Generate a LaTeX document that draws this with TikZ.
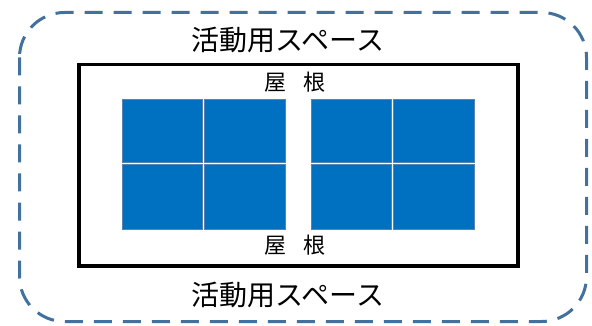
\documentclass[tikz,border=0pt]{standalone}
\usepackage{fontspec}
\setmainfont{Noto Sans CJK JP}
\definecolor{dashblue}{HTML}{41719C}
\definecolor{panelblue}{HTML}{0070C0}
\definecolor{celledge}{HTML}{5A82B0}
\begin{document}
\begin{tikzpicture}[x=1pt,y=-1pt,
  area/.style={draw=dashblue,line width=3pt,dash pattern=on 18pt off 11pt,rounded corners=45pt},
  roofbox/.style={draw=black,line width=3.5pt},
  cell/.style={fill=panelblue,draw=celledge,line width=0.7pt},
  bigtext/.style={font=\fontsize{28}{30}\selectfont,inner sep=0pt},
  rooftext/.style={font=\fontsize{22}{24}\selectfont,inner sep=0pt}]
\useasboundingbox (0,0) rectangle (592,326);
\draw[area] (19.5,12.5) rectangle (586.5,321.5);
\draw[roofbox] (79,64.5) rectangle (518,266);
% left panel
\draw[cell] (122,99.5) rectangle (202.7,162.7);
\draw[cell] (204.2,99.5) rectangle (285,162.7);
\draw[cell] (122,164.5) rectangle (202.7,229);
\draw[cell] (204.2,164.5) rectangle (285,229);
% right panel
\draw[cell] (311,99.5) rectangle (391.5,162.7);
\draw[cell] (393,99.5) rectangle (474,162.7);
\draw[cell] (311,164.5) rectangle (391.5,229);
\draw[cell] (393,164.5) rectangle (474,229);
\node[bigtext] (top) at (288,39.5) {活動用スペース};
\node[bigtext] (bottom) at (288,295) {活動用スペース};
\node[rooftext] (rooftop) at (295,82.5) {屋\hspace{18pt}根};
\node[rooftext] (roofbot) at (295,245.5) {屋\hspace{18pt}根};
\end{tikzpicture}
\end{document}
